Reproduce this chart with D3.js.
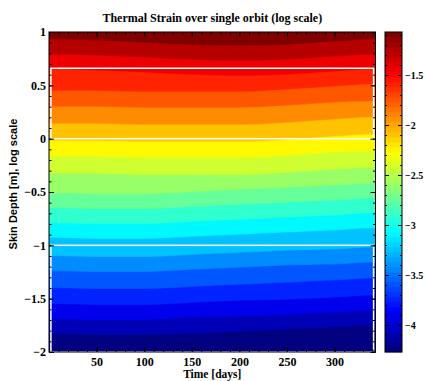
<!DOCTYPE html>
<html>
<head>
<meta charset="utf-8">
<script src="https://cdn.jsdelivr.net/npm/d3@7"></script>
<style>
  body { margin: 0; background: #fff; }
  text { font-family: "Liberation Serif", "Times New Roman", serif; font-weight: bold; fill: #000; }
</style>
</head>
<body>
<div id="chart"></div>
<script>
// time columns where band boundaries were read [days]
const times = [0, 50, 100, 150, 200, 250, 300, 343];

// contour boundaries, top to bottom, log10(skin depth [m]) at each time
const bounds = [
  [0.93, 0.92, 0.90, 0.88, 0.87, 0.88, 0.91, 0.93],
  [0.79, 0.78, 0.76, 0.74, 0.73, 0.74, 0.77, 0.79],
  [0.65, 0.64, 0.62, 0.60, 0.59, 0.60, 0.63, 0.65],
  [0.45, 0.45, 0.44, 0.44, 0.44, 0.46, 0.49, 0.51],
  [0.30, 0.30, 0.29, 0.29, 0.29, 0.31, 0.34, 0.35],
  [0.14, 0.14, 0.13, 0.13, 0.13, 0.15, 0.18, 0.20],
  [-0.02, -0.02, -0.03, -0.03, -0.03, -0.01, 0.02, 0.04],
  [-0.17, -0.17, -0.18, -0.18, -0.18, -0.16, -0.13, -0.12],
  [-0.33, -0.33, -0.34, -0.34, -0.34, -0.32, -0.29, -0.27],
  [-0.51, -0.52, -0.52, -0.50, -0.48, -0.46, -0.44, -0.42],
  [-0.65, -0.66, -0.66, -0.64, -0.62, -0.60, -0.58, -0.56],
  [-0.79, -0.80, -0.80, -0.78, -0.76, -0.74, -0.72, -0.70],
  [-0.93, -0.94, -0.94, -0.92, -0.90, -0.88, -0.86, -0.84],
  [-1.10, -1.11, -1.11, -1.09, -1.07, -1.05, -1.04, -1.02],
  [-1.24, -1.25, -1.25, -1.23, -1.21, -1.19, -1.18, -1.16],
  [-1.40, -1.41, -1.41, -1.39, -1.37, -1.35, -1.33, -1.31],
  [-1.55, -1.56, -1.56, -1.54, -1.52, -1.51, -1.49, -1.47],
  [-1.69, -1.70, -1.70, -1.68, -1.67, -1.65, -1.63, -1.61],
  [-1.83, -1.84, -1.84, -1.83, -1.81, -1.79, -1.77, -1.75]
];

// log10 strain of each band, top band first
const bandLevels = [-1.07, -1.24, -1.41, -1.58, -1.74, -1.91, -2.08, -2.25, -2.42, -2.59,
                    -2.75, -2.92, -3.09, -3.26, -3.43, -3.60, -3.76, -3.93, -4.10, -4.27];

const cLim = [-4.27, -1.07];
const cTicks = [-4, -3.5, -3, -2.5, -2, -1.5];
const xTicks = [50, 100, 150, 200, 250, 300];
const yTicks = [-2, -1.5, -1, -0.5, 0, 0.5, 1];

// white boxes: [t0, t1, yLow, yHigh]
const boxes = [[2, 341, 0, 0.66], [2, 341, -2, -1]];

const W = 425, H = 381;
const m = { left: 49, right: 375.5, top: 32, bottom: 352 };

const svg = d3.select('#chart').append('svg').attr('width', W).attr('height', H);

const x = d3.scaleLinear().domain([0, 343]).range([m.left, m.right]);
const y = d3.scaleLinear().domain([-2, 1]).range([m.bottom, m.top]);

// jet colormap
function jet(v) {
  const c = (a) => Math.max(0, Math.min(1, a));
  const r = c(Math.min(4 * v - 1.5, -4 * v + 4.5));
  const g = c(Math.min(4 * v - 0.5, -4 * v + 3.5));
  const b = c(Math.min(4 * v + 0.5, -4 * v + 2.5));
  return d3.rgb(r * 255, g * 255, b * 255).toString();
}
const cNorm = d3.scaleLinear().domain(cLim).range([0, 1]).clamp(true);

svg.append('clipPath').attr('id', 'clip')
  .append('rect')
  .attr('x', m.left).attr('y', m.top)
  .attr('width', m.right - m.left).attr('height', m.bottom - m.top);

const plot = svg.append('g').attr('clip-path', 'url(#clip)');

// top band fills everything, then each lower band is painted over it
plot.append('rect')
  .attr('x', m.left).attr('y', m.top)
  .attr('width', m.right - m.left).attr('height', m.bottom - m.top)
  .attr('fill', jet(cNorm(bandLevels[0])));

const area = d3.area()
  .x((d) => x(d.t))
  .y0(y(-2.1))
  .y1((d) => y(d.v))
  .curve(d3.curveMonotoneX);

bounds.forEach((row, i) => {
  const pts = row.map((v, j) => ({ t: times[j], v: v }));
  pts.unshift({ t: -5, v: row[0] });
  pts.push({ t: 350, v: row[row.length - 1] });
  plot.append('path')
    .attr('d', area(pts))
    .attr('fill', jet(cNorm(bandLevels[i + 1])))
    .attr('stroke', jet(cNorm(bandLevels[i + 1])))
    .attr('stroke-width', 0.4);
});

// white boxes
plot.selectAll('.box')
  .data(boxes)
  .enter()
  .append('rect')
  .attr('x', (d) => x(d[0]))
  .attr('y', (d) => y(d[3]))
  .attr('width', (d) => x(d[1]) - x(d[0]))
  .attr('height', (d) => y(d[2]) - y(d[3]))
  .attr('fill', 'none')
  .attr('stroke', '#fff')
  .attr('stroke-width', 1.5);

// axes, ticks pointing inwards like MATLAB
function styleAxis(g, size) {
  g.select('.domain').remove();
  g.selectAll('line').attr('stroke', '#000');
  g.selectAll('text').style('font-size', (size || 12) + 'px');
}
const xMinor = d3.range(0, 344, 10);
const yMinor = d3.range(-20, 11).map((d) => d / 10);

svg.append('g').attr('transform', `translate(0,${m.bottom})`)
  .call(d3.axisBottom(x).tickValues(xMinor).tickSize(-2.5).tickFormat('')).call(styleAxis);
svg.append('g').attr('transform', `translate(0,${m.top})`)
  .call(d3.axisTop(x).tickValues(xMinor).tickSize(-2.5).tickFormat('')).call(styleAxis);
svg.append('g').attr('transform', `translate(${m.left},0)`)
  .call(d3.axisLeft(y).tickValues(yMinor).tickSize(-2.5).tickFormat('')).call(styleAxis);
svg.append('g').attr('transform', `translate(${m.right},0)`)
  .call(d3.axisRight(y).tickValues(yMinor).tickSize(-2.5).tickFormat('')).call(styleAxis);

svg.append('g').attr('transform', `translate(0,${m.bottom})`)
  .call(d3.axisBottom(x).tickValues(xTicks).tickSize(-5).tickPadding(5).tickFormat(d3.format('d')))
  .call(styleAxis);
svg.append('g').attr('transform', `translate(0,${m.top})`)
  .call(d3.axisTop(x).tickValues(xTicks).tickSize(-5).tickFormat('')).call(styleAxis);
svg.append('g').attr('transform', `translate(${m.left},0)`)
  .call(d3.axisLeft(y).tickValues(yTicks).tickSize(-5).tickPadding(3).tickFormat(d3.format('')))
  .call(styleAxis);
svg.append('g').attr('transform', `translate(${m.right},0)`)
  .call(d3.axisRight(y).tickValues(yTicks).tickSize(-5).tickFormat('')).call(styleAxis);

svg.append('rect')
  .attr('x', m.left).attr('y', m.top)
  .attr('width', m.right - m.left).attr('height', m.bottom - m.top)
  .attr('fill', 'none').attr('stroke', '#000').attr('stroke-width', 1);

// colorbar
const cb = { left: 385, right: 402 };
const cy = d3.scaleLinear().domain(cLim).range([m.bottom, m.top]);
const nCol = 64;
const cSteps = d3.range(nCol);
svg.append('g').selectAll('rect')
  .data(cSteps)
  .enter()
  .append('rect')
  .attr('x', cb.left)
  .attr('width', cb.right - cb.left)
  .attr('y', (i) => cy(cLim[0] + (i + 1) * (cLim[1] - cLim[0]) / nCol))
  .attr('height', (m.bottom - m.top) / nCol + 0.3)
  .attr('fill', (i) => jet(i / (nCol - 1)));

const cMinor = d3.range(-42, -10).map((d) => d / 10);
svg.append('g').attr('transform', `translate(${cb.left},0)`)
  .call(d3.axisRight(cy).tickValues(cMinor).tickSize(2).tickFormat('')).call(styleAxis);
svg.append('g').attr('transform', `translate(${cb.right},0)`)
  .call(d3.axisLeft(cy).tickValues(cMinor).tickSize(2).tickFormat('')).call(styleAxis);
svg.append('g').attr('transform', `translate(${cb.left},0)`)
  .call(d3.axisRight(cy).tickValues(cTicks).tickSize(4).tickFormat('')).call(styleAxis);
svg.append('g').attr('transform', `translate(${cb.right},0)`)
  .call(d3.axisRight(cy).tickValues(cTicks).tickSize(0).tickPadding(3).tickFormat(d3.format('')))
  .call((g) => styleAxis(g, 10));
svg.append('g').attr('transform', `translate(${cb.right},0)`)
  .call(d3.axisLeft(cy).tickValues(cTicks).tickSize(4).tickFormat('')).call(styleAxis);
svg.append('rect')
  .attr('x', cb.left).attr('y', m.top)
  .attr('width', cb.right - cb.left).attr('height', m.bottom - m.top)
  .attr('fill', 'none').attr('stroke', '#000').attr('stroke-width', 1);

// titles
svg.append('text')
  .attr('x', (m.left + m.right) / 2).attr('y', 22)
  .attr('text-anchor', 'middle').style('font-size', '12px')
  .text('Thermal Strain over single orbit (log scale)');
svg.append('text')
  .attr('x', (m.left + m.right) / 2).attr('y', 378)
  .attr('text-anchor', 'middle').style('font-size', '11.5px')
  .text('Time [days]');
svg.append('text')
  .attr('transform', 'translate(17,184) rotate(-90)')
  .attr('text-anchor', 'middle')
  .style('font-family', '"Liberation Sans", Arial, sans-serif')
  .style('font-size', '11px')
  .text('Skin Depth [m], log scale');
</script>
</body>
</html>
